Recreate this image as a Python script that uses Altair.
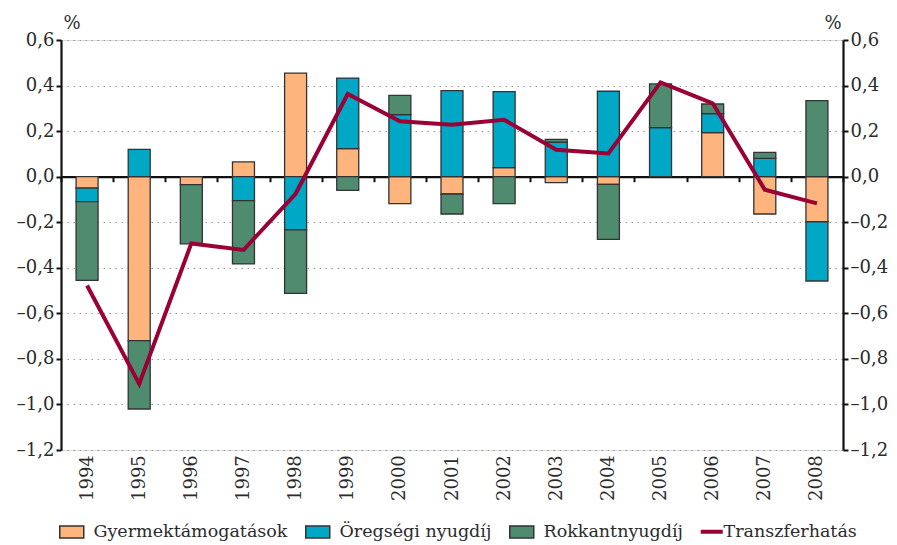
import altair as alt
import pandas as pd

years = ["1994", "1995", "1996", "1997", "1998", "1999", "2000", "2001",
         "2002", "2003", "2004", "2005", "2006", "2007", "2008"]
gyermek = [-0.05, -0.72, -0.035, 0.065, 0.455, 0.123, -0.118, -0.076,
           0.04, -0.026, -0.034, 0.0, 0.193, -0.164, -0.198]
oregsegi = [-0.06, 0.12, 0.0, -0.105, -0.234, 0.31, 0.272, 0.378,
            0.333, 0.152, 0.375, 0.215, 0.084, 0.08, -0.26]
rokkant = [-0.345, -0.30, -0.26, -0.278, -0.278, -0.06, 0.085, -0.088,
           -0.118, 0.012, -0.241, 0.192, 0.042, 0.027, 0.334]
transzfer = [-0.478, -0.91, -0.293, -0.322, -0.075, 0.363, 0.243, 0.228,
             0.25, 0.118, 0.102, 0.414, 0.322, -0.057, -0.117]

bar_names = ["Gyermektámogatások", "Öregségi nyugdíj", "Rokkantnyugdíj"]
bar_colors = ["#FDB47D", "#00A8C6", "#4E8B6F"]
line_name = "Transzferhatás"
line_color = "#9A0036"

rows = []
for i, y in enumerate(years):
    for k, vals in enumerate([gyermek, oregsegi, rokkant]):
        rows.append({"year": y, "series": bar_names[k], "value": vals[i], "order": k})
bars_df = pd.DataFrame(rows)
line_df = pd.DataFrame({"year": years, "value": transzfer, "series": line_name})

FONT = "DejaVu Serif"
TXT = "#2b2b2b"
AX = "#111111"

xscale = alt.Scale(domain=years, paddingInner=0, paddingOuter=0)
yscale = alt.Scale(domain=[-1.2, 0.6], nice=False, zero=False)
yvals = [-1.2, -1.0, -0.8, -0.6, -0.4, -0.2, 0.0, 0.2, 0.4, 0.6]
lab_expr = "replace(replace(format(datum.value, '.1f'), '.', ','), '\u2212', '\u2013')"

xaxis = alt.Axis(
    title=None, orient="bottom", offset=-273.3, domain=True, domainColor=AX,
    domainWidth=2.2, ticks=True, tickBand="extent", tickSize=5, tickWidth=2,
    tickColor=AX, labelAngle=-90, labelPadding=273, labelFont=FONT,
    labelFontSize=18, labelColor=TXT, grid=False, labelOverlap=False)


def yaxis(orient, grid):
    return alt.Axis(
        title="%", titleAngle=0, titleX=(2 if orient == "left" else -2), titleY=-8,
        titleAlign=("left" if orient == "left" else "right"),
        titleFont=FONT, titleFontSize=18, titleFontWeight="normal", titleColor=TXT,
        values=yvals, labelExpr=lab_expr, labelFont=FONT, labelFontSize=18,
        labelColor=TXT, labelPadding=2, domainColor=AX, domainWidth=2.2,
        tickColor=AX, tickWidth=2, tickSize=5, grid=grid, gridColor="#999999",
        gridDash=[1.5, 4.5], gridWidth=1.2, orient=orient)


bars = alt.Chart(bars_df).mark_bar(
    width=22, stroke="#333333", strokeWidth=1.3, opacity=1
).encode(
    x=alt.X("year:O", scale=xscale, sort=years, axis=xaxis),
    y=alt.Y("value:Q", scale=yscale, stack="zero", axis=yaxis("left", True)),
    color=alt.Color("series:N", scale=alt.Scale(domain=bar_names, range=bar_colors),
                    legend=alt.Legend(
                        title=None, orient="none", direction="horizontal",
                        legendX=2, legendY=483, labelFont=FONT, labelFontSize=17.5,
                        labelColor=TXT, symbolSize=144, columnPadding=14,
                        labelOffset=13, labelLimit=400, symbolType="M-2,-1H2V1H-2Z",
                        symbolStrokeColor="#333333", symbolStrokeWidth=1.5,
                        symbolOpacity=1)),
    order=alt.Order("order:Q"),
)

line = alt.Chart(line_df).mark_line(strokeWidth=4, strokeJoin="miter").encode(
    x=alt.X("year:O", scale=xscale, sort=years, axis=xaxis),
    y=alt.Y("value:Q", scale=yscale, axis=yaxis("right", False)),
    stroke=alt.Stroke("series:N", scale=alt.Scale(domain=[line_name], range=[line_color]),
                      legend=alt.Legend(
                          title=None, orient="none", legendX=642, legendY=483,
                          labelFont=FONT, labelFontSize=17.5, labelColor=TXT,
                          labelLimit=400, symbolSize=121, symbolType="M-2,0H2",
                          symbolFillColor="transparent", symbolStrokeWidth=4,
                          labelOffset=3)),
)

chart = alt.layer(bars, line).resolve_axis(y="independent").resolve_scale(
    color="independent", stroke="independent"
).properties(
    width=782, height=410, padding={"left": 8, "top": 6, "right": 0, "bottom": 0}
).configure_view(strokeWidth=0).configure(background="white")

chart.save("out.html", embed_options={"renderer": "svg", "actions": False})
